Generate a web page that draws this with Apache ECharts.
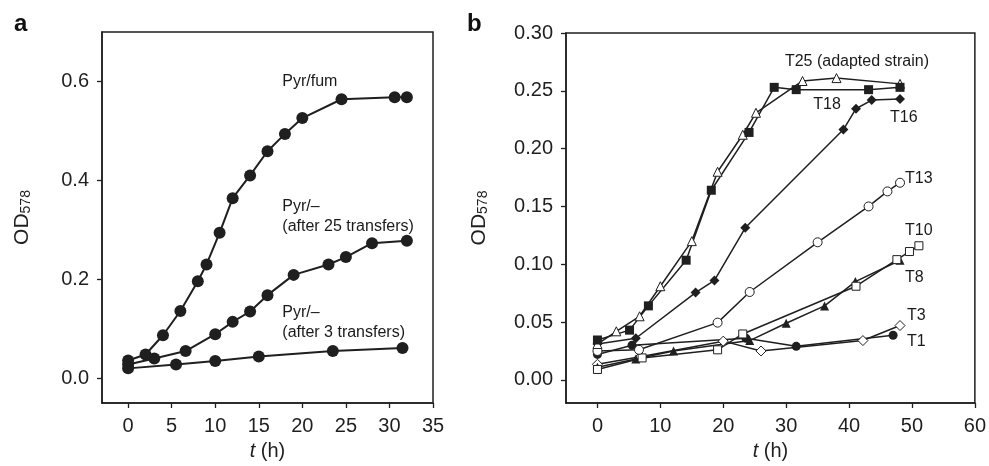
<!DOCTYPE html>
<html>
<head>
<meta charset="utf-8">
<script src="https://cdn.jsdelivr.net/npm/echarts@6/dist/echarts.min.js"></script>
<style>
html, body { margin: 0; padding: 0; background: #fff; }
#main { width: 989px; height: 466px; }
</style>
</head>
<body>
<div id="main"></div>
<script>
// panel a: OD578 vs time (h)
var fumT  = [0, 2, 4, 6, 8, 9, 10.5, 12, 14, 16, 18, 20, 24.5, 30.6, 32];
var fumOD = [0.036, 0.048, 0.087, 0.136, 0.196, 0.230, 0.294, 0.364, 0.410, 0.459, 0.494, 0.526, 0.564, 0.568, 0.568];
var p25T  = [0, 3, 6.6, 10, 12, 14, 16, 19, 23, 25, 28, 32];
var p25OD = [0.028, 0.040, 0.055, 0.089, 0.114, 0.135, 0.168, 0.209, 0.230, 0.245, 0.273, 0.278];
var p3T   = [0, 5.5, 10, 15, 23.5, 31.5];
var p3OD  = [0.020, 0.028, 0.035, 0.044, 0.055, 0.061];

// panel b: transfers T1..T25
var t25T  = [0, 3, 6.7, 10, 15, 19.1, 23.1, 25.2, 32.6, 38, 48.1];
var t25OD = [0.031, 0.042, 0.055, 0.081, 0.120, 0.180, 0.212, 0.231, 0.2585, 0.261, 0.256];
var t18T  = [0, 5.1, 8.1, 14.1, 18.1, 24.1, 28.1, 31.6, 43.1, 48.1];
var t18OD = [0.0345, 0.043, 0.064, 0.1035, 0.164, 0.214, 0.253, 0.251, 0.251, 0.253];
var t16T  = [0, 6.1, 15.6, 18.6, 23.5, 39.1, 41.1, 43.6, 48.1];
var t16OD = [0.031, 0.036, 0.0755, 0.086, 0.1315, 0.2165, 0.2345, 0.242, 0.243];
var t13T  = [0, 6.6, 19.1, 24.2, 35, 43.1, 46.1, 48.1];
var t13OD = [0.025, 0.026, 0.0495, 0.076, 0.119, 0.150, 0.163, 0.1705];
var t10T  = [0, 7.1, 19.1, 23.1, 41.1, 47.6, 49.6, 51.1];
var t10OD = [0.009, 0.019, 0.026, 0.0397, 0.081, 0.104, 0.111, 0.116];
var t8T   = [0, 6.1, 12.1, 24.2, 30, 36.1, 41, 48.1];
var t8OD  = [0.011, 0.018, 0.025, 0.034, 0.049, 0.064, 0.085, 0.1035];
var t3T   = [0, 6.8, 20, 26, 42.2, 48.1];
var t3OD  = [0.0135, 0.020, 0.0335, 0.025, 0.034, 0.047];
var t1T   = [0, 5.5, 23.6, 31.6, 47];
var t1OD  = [0.022, 0.030, 0.036, 0.029, 0.0386];

// tick labels
var xTicksA = [0, 5, 10, 15, 20, 25, 30, 35];
var yTicksA = [0, 0.2, 0.4, 0.6];
var xTicksB = [0, 10, 20, 30, 40, 50, 60];
var yTicksB = [0, 0.05, 0.10, 0.15, 0.20, 0.25, 0.30];

// curve labels (anchor in data units, text)
var notesA = [
	[17.7, 0.599, 'Pyr/fum'],
	[17.7, 0.327, 'Pyr/–\n(after 25 transfers)'],
	[17.7, 0.113, 'Pyr/–\n(after 3 transfers)']
];
var notesB = [
	[29.8, 0.275, 'T25 (adapted strain)'],
	[34.3, 0.238, 'T18'],
	[46.5, 0.227, 'T16'],
	[48.9, 0.1737, 'T13'],
	[48.9, 0.129, 'T10'],
	[48.9, 0.0887, 'T8'],
	[49.2, 0.056, 'T3'],
	[49.2, 0.0329, 'T1']
];

var ink = '#1f1f1f';
var font = '"Liberation Sans", Arial, Helvetica, sans-serif';

function zip(xs, ys) {
	var out = [];
	for (var i = 0; i < xs.length; i++) {
		out.push([xs[i], ys[i]]);
	}
	return out;
}

function curve(idx, xs, ys, symbol, size, open, width) {
	return {
		type: 'line',
		xAxisIndex: idx,
		yAxisIndex: idx,
		data: zip(xs, ys),
		symbol: symbol,
		symbolSize: size,
		showAllSymbol: true,
		animation: false,
		lineStyle: { color: ink, width: width },
		itemStyle: {
			color: open ? '#fff' : ink,
			borderColor: ink,
			borderWidth: open ? 1 : 0
		},
		emphasis: { disabled: true }
	};
}

function notes(idx, list) {
	return {
		type: 'scatter',
		xAxisIndex: idx,
		yAxisIndex: idx,
		symbolSize: 0,
		silent: true,
		animation: false,
		z: 5,
		data: list.map(function (n) { return { value: [n[0], n[1]], name: n[2] }; }),
		label: {
			show: true,
			position: 'right',
			distance: 0,
			formatter: '{b}',
			color: '#1a1a1a',
			opacity: 1,
			textBorderWidth: 0,
			fontFamily: font,
			fontSize: 16,
			lineHeight: 20,
			align: 'left'
		}
	};
}

function xAxis(idx, min, max, ticks) {
	return {
		type: 'value',
		gridIndex: idx,
		min: min,
		max: max,
		name: '{i|t} (h)',
		nameLocation: 'middle',
		nameGap: 38,
		nameTextStyle: {
			color: ink, fontFamily: font, fontSize: 20,
			rich: { i: { fontStyle: 'italic', color: ink, fontFamily: font, fontSize: 20 } }
		},
		axisLine: { show: true, onZero: false, lineStyle: { color: ink, width: 1.5 } },
		axisTick: { show: true, length: 5, customValues: ticks, lineStyle: { color: ink, width: 1.3 } },
		axisLabel: { customValues: ticks, margin: 13, color: ink, fontFamily: font, fontSize: 20 },
		splitLine: { show: false }
	};
}

function yAxis(idx, min, max, ticks, digits, gap) {
	return {
		type: 'value',
		gridIndex: idx,
		min: min,
		max: max,
		name: '{o|OD}{s|578}',
		nameLocation: 'middle',
		nameGap: gap,
		nameRotate: 90,
		nameTextStyle: {
			rich: {
				o: { fontSize: 21, lineHeight: 21, verticalAlign: 'top', padding: [0, 0, 6, 0], color: ink, fontFamily: font },
				s: { fontSize: 14, lineHeight: 14, verticalAlign: 'bottom', color: ink, fontFamily: font }
			}
		},
		axisLine: { show: true, onZero: false, lineStyle: { color: ink, width: 1.5 } },
		axisTick: { show: true, length: 5, customValues: ticks, lineStyle: { color: ink, width: 1.3 } },
		axisLabel: {
			customValues: ticks,
			margin: 13,
			color: ink,
			fontFamily: font,
			fontSize: 20,
			formatter: function (v) { return v.toFixed(digits); }
		},
		splitLine: { show: false }
	};
}

var chart = echarts.init(document.getElementById('main'), null, { renderer: 'canvas' });
var option = {
	backgroundColor: '#fff',
	animation: false,
	title: [
		{ text: 'a', left: 9, top: 7, textStyle: { fontFamily: font, fontSize: 24, fontWeight: 'bold', color: '#111' } },
		{ text: 'b', left: 462, top: 7, textStyle: { fontFamily: font, fontSize: 24, fontWeight: 'bold', color: '#111' } }
	],
	grid: [
		{ left: 102, top: 32, width: 331, height: 373, show: true, borderColor: ink, borderWidth: 1.5, backgroundColor: 'transparent' },
		{ left: 566, top: 33, width: 410, height: 372, show: true, borderColor: ink, borderWidth: 1.5, backgroundColor: 'transparent' }
	],
	xAxis: [
		xAxis(0, -3, 35, xTicksA),
		xAxis(1, -5, 60, xTicksB)
	],
	yAxis: [
		yAxis(0, -0.05, 0.7, yTicksA, 1, 69),
		yAxis(1, -0.02, 0.30, yTicksB, 2, 76)
	],
	series: [
		curve(0, p3T, p3OD, 'circle', 12, false, 2),
		curve(0, p25T, p25OD, 'circle', 12, false, 2),
		curve(0, fumT, fumOD, 'circle', 12, false, 2),
		notes(0, notesA),

		curve(1, t1T, t1OD, 'circle', 9, false, 1.5),
		curve(1, t3T, t3OD, 'diamond', 10, true, 1.5),
		curve(1, t8T, t8OD, 'triangle', 9, false, 1.5),
		curve(1, t10T, t10OD, 'rect', 8, true, 1.5),
		curve(1, t13T, t13OD, 'circle', 9, true, 1.5),
		curve(1, t16T, t16OD, 'diamond', 10, false, 1.5),
		curve(1, t25T, t25OD, 'triangle', 9, true, 1.5),
		curve(1, t18T, t18OD, 'rect', 9, false, 1.5),
		notes(1, notesB)
	]
};
chart.setOption(option);
</script>
</body>
</html>
